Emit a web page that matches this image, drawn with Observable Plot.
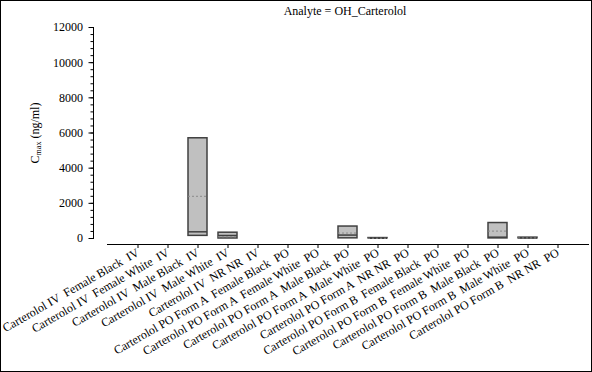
<!DOCTYPE html>
<html>
<head>
<meta charset="utf-8">
<script src="https://cdn.jsdelivr.net/npm/d3@7"></script>
<script src="https://cdn.jsdelivr.net/npm/@observablehq/plot@0.6"></script>
<style>
  html, body { margin: 0; padding: 0; background: white; }
  #wrap { position: relative; width: 592px; height: 372px; overflow: hidden; background: white; font-family: 'Liberation Serif', serif; }
  #border { position: absolute; left: 0; top: 0; width: 592px; height: 372px; box-sizing: border-box; border: 1px solid #000; pointer-events: none; z-index: 5; }
  #title { position: absolute; top: 4px; left: 245px; width: 200px; text-align: center; font-size: 12px; line-height: 14px; color: #000; z-index: 3; font-family: 'Liberation Serif', serif; }
  #ylab { position: absolute; left: 35px; top: 133px; transform: translate(-50%, -50%) rotate(-90deg); font-size: 12px; white-space: nowrap; color: #000; z-index: 3; font-family: 'Liberation Serif', serif; }
  #ylab sub { font-size: 8px; vertical-align: -2px; }
  #chart { position: absolute; left: 0; top: 0; }
  #chart svg, #chart svg text { font-family: 'Liberation Serif', serif !important; }
</style>
</head>
<body>
<div id="wrap">
  <div id="chart"></div>
  <div id="title">Analyte = OH_Carterolol</div>
  <div id="ylab">C<sub>max</sub> (ng/ml)</div>
  <div id="border"></div>
</div>
<script>
const categories = [
  "Carterolol IV  Female Black  IV",
  "Carterolol IV  Female White  IV",
  "Carterolol IV  Male Black  IV",
  "Carterolol IV  Male White  IV",
  "Carterolol IV  NR NR  IV",
  "Carterolol PO Form A  Female Black  PO",
  "Carterolol PO Form A  Female White  PO",
  "Carterolol PO Form A  Male Black  PO",
  "Carterolol PO Form A  Male White  PO",
  "Carterolol PO Form A  NR NR  PO",
  "Carterolol PO Form B  Female Black  PO",
  "Carterolol PO Form B  Female White  PO",
  "Carterolol PO Form B  Male Black  PO",
  "Carterolol PO Form B  Male White  PO",
  "Carterolol PO Form B  NR NR  PO"
];
const q1Values     = [null, null, 150, 0,   null, null, null, 10,  8,  null, null, null, 5,   10, null];
const medianValues = [null, null, 380, 170, null, null, null, 195, 15, null, null, null, 75,  30, null];
const q3Values     = [null, null, 5700, 330, null, null, null, 680, 25, null, null, null, 880, 50, null];
const meanValues   = [null, null, 2400, 100, null, null, null, 310, 15, null, null, null, 420, 30, null];
const yMajorTicks = [0, 2000, 4000, 6000, 8000, 10000, 12000];
const yMinorTicks = d3.range(0, 12001, 400);

const rows = categories.map((c, i) => ({
  cat: c, q1: q1Values[i], med: medianValues[i], q3: q3Values[i], mean: meanValues[i]
})).filter(d => d.q3 != null);

const chart = Plot.plot({
  width: 592,
  height: 372,
  marginTop: 27,
  marginBottom: 128,
  marginLeft: 93,
  marginRight: 4,
  style: { fontFamily: "'Liberation Serif', serif", fontSize: "12px", color: "#000", background: "transparent", whiteSpace: "pre", overflow: "visible" },
  x: { domain: categories, range: [107, 588], paddingInner: 0.37, paddingOuter: 0.7, label: null },
  y: { domain: [0, 12000], insetBottom: 6, label: null },
  marks: [
    Plot.frame({ anchor: "left", insetBottom: 6, stroke: "#000" }),
    Plot.frame({ anchor: "bottom", insetLeft: 14, stroke: "#000" }),
    Plot.axisY({ ticks: yMinorTicks, tickSize: 2.5, text: null, stroke: "#000" }),
    Plot.axisY({ ticks: yMajorTicks, tickSize: 4.5, tickPadding: 6, tickFormat: d3.format("d"), stroke: "#000", fill: "#000" }),
    Plot.axisX({ tickSize: 4, tickPadding: 3, tickRotate: -30, stroke: "#000", fill: "#000" }),
    Plot.barY(rows, { x: "cat", y1: "q1", y2: "q3", fill: "#c0c0c0", stroke: "#404040", strokeWidth: 1.5 }),
    Plot.tickY(rows, { x: "cat", y: "med", stroke: "#404040", strokeWidth: 1.5 }),
    Plot.tickY(rows, { x: "cat", y: "mean", stroke: "#8a8a8a", strokeWidth: 1, strokeDasharray: "2,2" })
  ]
});
document.getElementById("chart").appendChild(chart);
</script>
</body>
</html>
